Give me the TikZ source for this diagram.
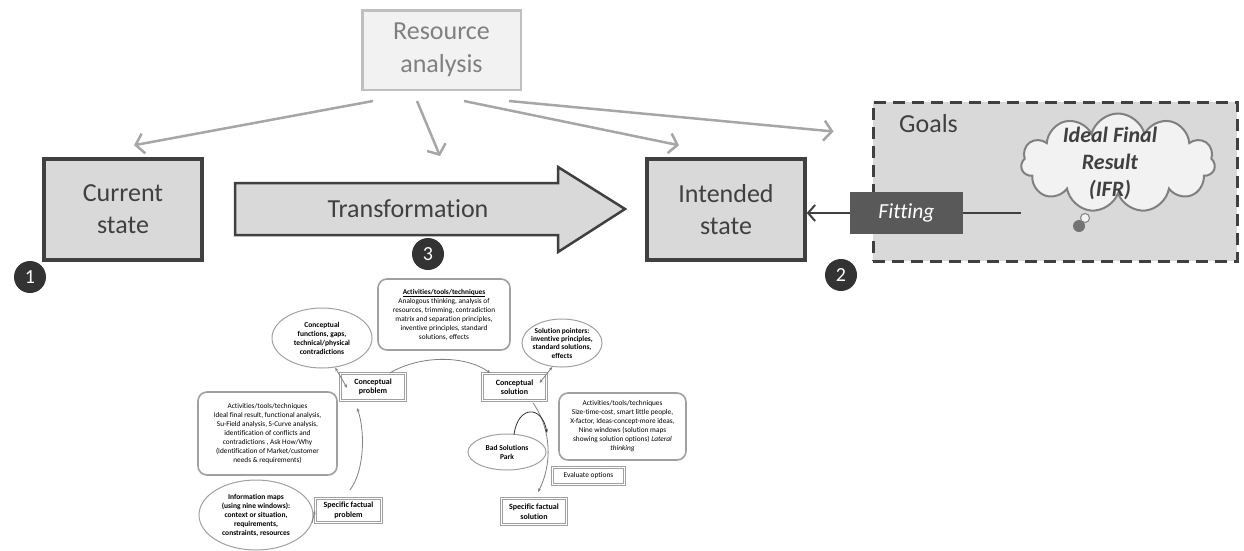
\documentclass[tikz,border=0pt]{standalone}
\usepackage{fontspec}
\setmainfont{Carlito}[Ligatures=NoCommon]
\usetikzlibrary{shapes.geometric,shapes.symbols,arrows.meta,positioning}

\definecolor{darkgr}{HTML}{404040}
\definecolor{midgr}{HTML}{A6A6A6}
\definecolor{fillgr}{HTML}{D9D9D9}
\definecolor{fitgr}{HTML}{595959}
\definecolor{lowgr}{HTML}{A0A0A0}

\tikzset{
  statebox/.style={draw=darkgr, line width=3.5pt, fill=fillgr, text=darkgr, minimum width=158pt, minimum height=101pt, align=center, font=\fontsize{26}{32}\selectfont},
  resarrow/.style={draw=midgr, line width=2.5pt, -{Straight Barb[length=8pt,width=20pt]}},
  badge/.style={circle, fill=black!80, text=white, minimum size=32pt, inner sep=0pt, font=\fontsize{20}{20}\selectfont},
  lowbox/.style={draw=lowgr, double=white, double distance=1pt, line width=0.8pt, fill=white, align=center, inner sep=0pt, font=\bfseries\fontsize{8}{9.5}\selectfont},
  actbox/.style={draw=lowgr, line width=1.6pt, rounded corners=9pt, align=center, inner sep=0pt, font=\fontsize{7.3}{9}\selectfont},
  lowell/.style={ellipse, draw=lowgr, line width=1pt, align=center, inner sep=-3pt, font=\bfseries\fontsize{7.5}{9}\selectfont},
  lowarr/.style={draw=gray, line width=0.8pt, -{Stealth[length=4pt,width=3pt]}},
  lowdbl/.style={draw=gray, line width=0.8pt, {Stealth[length=4pt,width=3pt]}-{Stealth[length=4pt,width=3pt]}},
}

\begin{document}
\begin{tikzpicture}[x=1pt,y=-1pt]
\useasboundingbox (0,0) rectangle (1244,550);

% upper part
\node[draw=black!25, line width=2.5pt, fill=black!5, text=black!50, minimum width=158.5pt, minimum height=79.5pt, align=center, font=\fontsize{26}{33}\selectfont] (res) at (441.5,50) {Resource\\analysis};

\node[statebox] (cur) at (123,209.5) {Current\\state};
\node[statebox] (int) at (726,209.5) {Intended\\state};

\draw[draw=darkgr, line width=2.5pt, fill=fillgr, line join=miter] (235,183) -- (558,183) -- (558,167) -- (625,209) -- (558,252) -- (558,235) -- (235,235) -- cycle;
\node[text=darkgr, font=\fontsize{26}{32}\selectfont] (transf) at (408,209) {Transformation};
\coordinate (trtop) at (440,156);

% goals
\node[draw=darkgr, fill=fillgr, line width=3pt, dash pattern=on 12pt off 7pt, minimum width=364pt, minimum height=159pt] (goals) at (1055,181.5) {};
\node[anchor=base west, text=darkgr, font=\fontsize{26}{32}\selectfont, inner sep=0pt] (goalstxt) at (899,132) {Goals};
\node[cloud, cloud puffs=11, aspect=1.9, draw=black!50, line width=2pt, fill=black!5, minimum width=194pt, minimum height=99pt, inner sep=0pt] (ifr) at (1118,163) {};
\node[align=center, text=darkgr, font=\bfseries\itshape\fontsize{22}{27}\selectfont] (ifrtxt) at (1110,163) {Ideal Final\\Result\\(IFR)};
\fill[black!55] (1079,226) circle (6pt);
\draw[black!50, fill=black!5, line width=1pt] (1085,218) circle (4.5pt);

\node[fill=fitgr, text=white, font=\itshape\fontsize{21.5}{24}\selectfont, minimum width=113pt, minimum height=42pt] (fit) at (906.5,213) {Fitting};
\coordinate (fitend) at (1021,213);
\draw[darkgr, line width=2pt] (fit.east) -- (fitend);
\draw[darkgr, line width=2pt, -{Straight Barb[length=7pt,width=16pt]}] (fit.west) -- (fit.west -| int.east);

\draw[resarrow] ([xshift=12pt,yshift=-10pt]res.south west) -- ([xshift=11pt,yshift=12pt]cur.north);
\draw[resarrow] ([xshift=-24.5pt,yshift=-10pt]res.south) -- (trtop);
\draw[resarrow] ([xshift=22.5pt,yshift=-10pt]res.south) -- ([xshift=-47pt,yshift=12pt]int.north);
\draw[resarrow] ([xshift=67.5pt,yshift=-10pt]res.south) -- ([xshift=-38pt,yshift=-31pt]goals.north west);

\node[badge] (b1) at (30,277) {1};
\node[badge] (b3) at (428,254) {3};
\node[badge] (b2) at (841,275) {2};

% lower part
\node[lowell, minimum width=100pt, minimum height=60pt] (concept) at (322,338) {Conceptual\\functions, gaps,\\technical/physical\\contradictions};
\node[actbox, minimum width=132pt, minimum height=71pt] (acttop) at (444,314.5) {\underline{\textbf{Activities/tools/techniques}}\\Analogous thinking, analysis of\\resources, trimming, contradiction\\matrix and separation principles,\\inventive principles, standard\\solutions, effects};
\node[lowell, minimum width=80pt, minimum height=48pt, font=\bfseries\fontsize{7.4}{8.3}\selectfont] (solpt) at (562,343) {Solution pointers:\\inventive principles,\\standard solutions,\\effects};
\node[lowbox, minimum width=65pt, minimum height=27pt] (cprob) at (373,387) {Conceptual\\problem};
\node[lowbox, minimum width=64pt, minimum height=27pt] (csol) at (514.5,387) {Conceptual\\solution};
\node[actbox, minimum width=139pt, minimum height=83pt] (actleft) at (267.5,433.5) {Activities/tools/techniques\\Ideal final result, functional analysis,\\Su-Field analysis, S-Curve analysis,\\identification of conflicts and\\contradictions , Ask How/Why\\(Identification of Market/customer\\needs \& requirements)};
\node[lowell, minimum width=114pt, minimum height=70pt] (info) at (256,515) {Information maps\\(using nine windows):\\context or situation,\\requirements,\\constraints, resources};
\node[lowbox, line width=1.2pt, minimum width=66pt, minimum height=24pt] (sfprob) at (348.5,510.5) {Specific factual\\problem};
\node[actbox, minimum width=127pt, minimum height=67pt] (actright) at (622.5,426.5) {Activities/tools/techniques\\Size-time-cost, smart little people,\\X-factor, Ideas-concept-more ideas,\\Nine windows (solution maps\\showing solution options) \textit{Lateral}\\\textit{thinking}};
\node[lowell, minimum width=78pt, minimum height=36pt] (bad) at (507,452) {Bad Solutions\\Park};
\node[lowbox, minimum width=72pt, minimum height=17pt, font=\fontsize{7.4}{9}\selectfont] (evalopt) at (588.5,476) {Evaluate options};
\node[lowbox, minimum width=65pt, minimum height=26pt] (sfsol) at (534,511.5) {Specific factual\\solution};

\coordinate (joinpt) at (547,433);
\draw[lowarr] (cprob.40) .. controls (420,355) and (465,355) .. (csol.150);
\draw[lowdbl] (concept.-66) -- ([xshift=7pt,yshift=-1pt]cprob.west);
\draw[lowdbl] (solpt.-112) -- ([xshift=25pt,yshift=4pt]csol.center);
\draw[lowarr] (info.-8) -- (sfprob.west);
\draw[lowarr] ([xshift=1.5pt,yshift=8pt]sfprob.north) .. controls (365,470) and (365,430) .. ([xshift=-16pt,yshift=-7pt]cprob.south);
\draw[lowarr] ([xshift=18.5pt,yshift=-2pt]csol.south) .. controls (552,430) and (552,465) .. ([xshift=4pt,yshift=6pt]sfsol.north);
\draw[lowarr, draw=black!80] ([xshift=7pt,yshift=-1pt]bad.north) .. controls (518,405) and (542,405) .. (joinpt);
\end{tikzpicture}
\end{document}
